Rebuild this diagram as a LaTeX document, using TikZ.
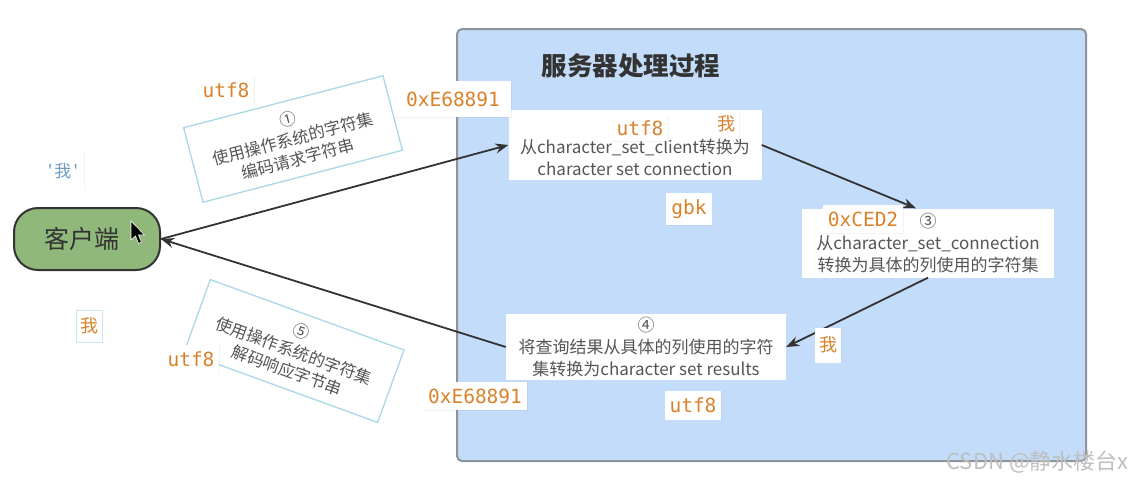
\documentclass[tikz,border=0pt]{standalone}
\usepackage{fontspec}
\setmainfont{Noto Sans CJK SC}
\newfontfamily\codefont{DejaVu Sans Mono}
\newfontfamily\rawcjk{Noto Sans CJK SC}[Ligatures=TeXOff]
\usetikzlibrary{arrows.meta,shadows}

\definecolor{serverfill}{HTML}{C2DCF9}
\definecolor{serverline}{HTML}{8E949B}
\definecolor{clientfill}{HTML}{90B87A}
\definecolor{inkgray}{HTML}{555555}
\definecolor{darkink}{HTML}{333333}
\definecolor{tagorange}{HTML}{D9822B}
\definecolor{noteline}{HTML}{A9D8E6}
\definecolor{quoteblue}{HTML}{6E9CC6}

\tikzset{
  serverbox/.style={draw=serverline, fill=serverfill, line width=2pt, rounded corners=5pt,
    anchor=north west, minimum width=629pt, minimum height=432pt, inner sep=0pt},
  stepbox/.style={fill=white, text=inkgray, align=center, inner sep=0pt,
    font=\fontsize{17}{22}\selectfont},
  notebox/.style={draw=noteline, line width=1.3pt, fill=white, text=inkgray, align=center,
    inner sep=0pt, minimum width=206pt, minimum height=77pt,
    font=\fontsize{16.5}{20.5}\selectfont},
  clientbox/.style={draw=darkink, fill=clientfill, line width=2pt, rounded corners=24pt,
    minimum width=146pt, minimum height=62pt, text=darkink,
    font=\fontsize{25}{25}\selectfont},
  tag/.style={fill=white, text=tagorange, inner xsep=5pt, inner ysep=0pt, minimum height=29pt,
    font=\codefont\fontsize{19.5}{19.5}\selectfont,
    drop shadow={shadow xshift=0.8pt, shadow yshift=-0.8pt, opacity=0.1}},
  cjktag/.style={tag, font=\fontsize{18}{18}\selectfont, inner xsep=4pt},
  link/.style={draw=darkink, line width=1.8pt, -{Stealth[length=13pt,width=10pt]}},
}

\begin{document}
\begin{tikzpicture}[x=1pt, y=-1pt]
\useasboundingbox (0,0) rectangle (1131,482);

% server side
\node[serverbox] (server) at (456,28) {};
\node[text=darkink, font=\bfseries\fontsize{25.5}{25.5}\selectfont] (title) at (631,66) {服务器处理过程};

\node[stepbox, minimum width=253pt, minimum height=70pt] (conv1) at (635,145) {};
\node[stepbox] (conv1text) at (635,157)
  {从character\_set\_client转换为\\character set connection};
\node[stepbox, minimum width=252pt, minimum height=69pt] (conv3) at (928,243)
  {③\\从character\_set\_connection\\转换为具体的列使用的字符集};
\node[stepbox, minimum width=280pt, minimum height=66pt] (conv4) at (646,347)
  {④\\将查询结果从具体的列使用的字符\\集转换为character set results};

% client
\node[clientbox] (client) at (87,239) {\hspace*{-10pt}客户端};
\filldraw[fill=black, draw=white, line width=0.6pt]
  (131,221) -- (131,240) -- (135.5,236) -- (138.5,243.5) -- (141.5,242.2) -- (138.5,235) -- (144.5,235) -- cycle;

% encoding / decoding notes
\node[notebox, rotate=14.6] (encode) at (293,139) {①\\使用操作系统的字符集\\编码请求字符串};
\node[notebox, rotate=-20] (decode) at (294,351) {⑤\\使用操作系统的字符集\\解码响应字节串};

% connectors
\draw[link] (client.east) -- (conv1.west);
\draw[link] (conv1.east) -- ([xshift=-12pt]conv3.north);
\draw[link] (conv3.south) -- (conv4.east);
\draw[link] (conv4.west) -- (client.east);

% byte / charset tags
\node[tag] (t1) at (226,90) {utf8};
\node[tag, minimum height=36pt, inner xsep=11pt] (t2) at (453,99) {0xE68891};
\node[tag, minimum height=26pt] (t3) at (640,128) {utf8};
\node[cjktag, minimum height=27pt] (t4) at (726,124) {我};
\node[tag, minimum height=32pt] (t5) at (689,209) {gbk};
\node[tag, minimum height=28pt] (t6) at (863,219) {0xCED2};
\node[cjktag, minimum height=35pt] (t7) at (828,345) {我};
\node[tag] (t8) at (693,405) {utf8};
\node[tag, minimum height=28pt] (t9) at (475,396) {0xE68891};
\node[tag] (t10) at (191,359) {utf8};
\node[tag, text=quoteblue, font=\rawcjk\fontsize{17}{17}\selectfont, inner xsep=6pt, minimum height=37pt] (t11) at (63,171) {'\kern2pt 我\kern2pt'};
\node[cjktag, minimum height=32pt, draw=noteline!60, line width=0.8pt] (t12) at (89,326) {我};

% watermark
\node[text=gray!50, anchor=east, font=\fontsize{22}{22}\selectfont, inner sep=0pt] (mark) at (1129,462) {CSDN @静水楼台x};
\end{tikzpicture}
\end{document}
